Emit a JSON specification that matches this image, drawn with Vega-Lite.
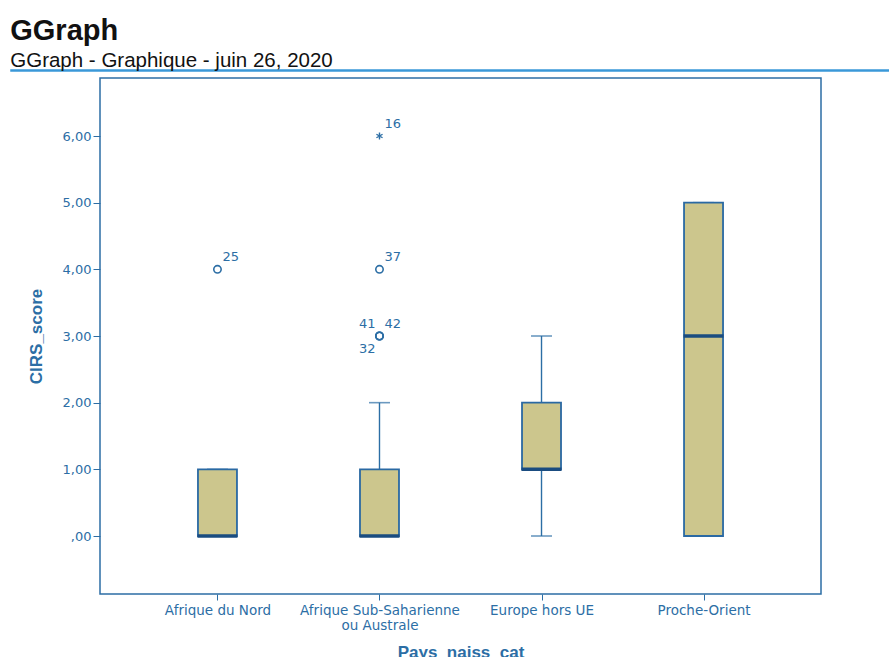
{
  "$schema": "https://vega.github.io/schema/vega-lite/v6.json",
  "padding": {"left": 10, "top": 16, "right": 0, "bottom": 0},
  "background": "white",
  "title": {
    "text": "GGraph",
    "subtitle": "GGraph - Graphique - juin 26, 2020",
    "anchor": "start",
    "frame": "bounds",
    "font": "Liberation Sans",
    "fontSize": 29,
    "fontWeight": "bold",
    "color": "#111111",
    "subtitleFont": "Liberation Sans",
    "subtitleFontSize": 20.5,
    "subtitleColor": "#111111",
    "subtitlePadding": 5,
    "offset": -2
  },
  "datasets": {
    "boxes": [
      {"cat": "Afrique du Nord", "q1": 0, "median": 0, "q3": 1, "lo": 0, "hi": 1},
      {"cat": "Afrique Sub-Saharienne ou Australe", "q1": 0, "median": 0, "q3": 1, "lo": 0, "hi": 2},
      {"cat": "Europe hors UE", "q1": 1, "median": 1, "q3": 2, "lo": 0, "hi": 3},
      {"cat": "Proche-Orient", "q1": 0, "median": 3, "q3": 5, "lo": 0, "hi": 5}
    ],
    "outliers": [
      {"cat": "Afrique du Nord", "value": 4, "id": 25, "type": "outlier"},
      {"cat": "Afrique Sub-Saharienne ou Australe", "value": 6, "id": 16, "type": "extreme"},
      {"cat": "Afrique Sub-Saharienne ou Australe", "value": 4, "id": 37, "type": "outlier"},
      {"cat": "Afrique Sub-Saharienne ou Australe", "value": 3, "id": 41, "type": "outlier"},
      {"cat": "Afrique Sub-Saharienne ou Australe", "value": 3, "id": 42, "type": "outlier"},
      {"cat": "Afrique Sub-Saharienne ou Australe", "value": 3, "id": 32, "type": "outlier"}
    ]
  },
  "config": {
    "view": {"stroke": null},
    "axis": {
      "domain": false,
      "grid": false,
      "tickColor": "#2c6ea5",
      "labelColor": "#2c6ea5",
      "titleColor": "#2c6ea5",
      "labelFont": "DejaVu Sans",
      "labelFontSize": 13,
      "titleFont": "Liberation Sans",
      "titleFontSize": 17,
      "titleFontWeight": "bold"
    }
  },
  "spacing": 5,
  "vconcat": [
    {
      "width": 879,
      "height": 1,
      "view": {"fill": "#3a98d8", "stroke": "#3a98d8", "strokeWidth": 1.5},
      "data": {"values": []},
      "mark": "rule",
      "encoding": {}
    },
    {
      "spacing": 14,
      "hconcat": [
        {
          "width": 1,
          "height": 1,
          "data": {"values": []},
          "mark": "rule",
          "encoding": {}
        },
        {
          "width": 721,
          "height": 516,
          "view": {"stroke": "#2c6ea5", "strokeWidth": 1.5},
          "encoding": {
            "x": {
              "field": "cat",
              "type": "nominal",
              "title": "Pays_naiss_cat",
              "scale": {
                "type": "point",
                "padding": 0.725,
                "domain": ["Afrique du Nord", "Afrique Sub-Saharienne ou Australe", "Europe hors UE", "Proche-Orient"]
              },
              "axis": {
                "labelAngle": 0,
                "tickSize": 6,
                "labelPadding": 3,
                "labelFontSize": 13.5,
                "titlePadding": 12,
                "labelExpr": "datum.label == 'Afrique Sub-Saharienne ou Australe' ? ['Afrique Sub-Saharienne', 'ou Australe'] : datum.label"
              }
            }
          },
          "layer": [
            {
              "data": {"name": "boxes"},
              "mark": {"type": "rule", "color": "#2c6ea5", "strokeWidth": 1.4},
              "encoding": {
                "y": {
                  "field": "lo",
                  "type": "quantitative",
                  "title": "CIRS_score",
                  "scale": {"domain": [-0.87, 6.87], "nice": false, "zero": false},
                  "axis": {
                    "values": [0, 1, 2, 3, 4, 5, 6],
                    "tickSize": 7,
                    "labelPadding": 2,
                    "titlePadding": 17,
                    "labelExpr": "datum.value == 0 ? ',00' : replace(format(datum.value, '.2f'), '.', ',')"
                  }
                },
                "y2": {"field": "hi"}
              }
            },
            {
              "data": {"name": "boxes"},
              "mark": {"type": "tick", "color": "#2c6ea5", "size": 21, "thickness": 1.6, "orient": "horizontal"},
              "encoding": {"y": {"field": "lo", "type": "quantitative"}}
            },
            {
              "data": {"name": "boxes"},
              "mark": {"type": "tick", "color": "#2c6ea5", "size": 21, "thickness": 1.6, "orient": "horizontal"},
              "encoding": {"y": {"field": "hi", "type": "quantitative"}}
            },
            {
              "data": {"name": "boxes"},
              "mark": {"type": "bar", "size": 39, "fill": "#ccc68d", "stroke": "#2a69a3", "strokeWidth": 1.8},
              "encoding": {
                "y": {"field": "q1", "type": "quantitative"},
                "y2": {"field": "q3"}
              }
            },
            {
              "data": {"name": "boxes"},
              "mark": {"type": "tick", "color": "#1a4c80", "size": 40, "thickness": 3.5, "orient": "horizontal", "opacity": 1},
              "encoding": {"y": {"field": "median", "type": "quantitative"}}
            },
            {
              "data": {"name": "outliers"},
              "transform": [{"filter": "datum.type == 'outlier'"}],
              "mark": {"type": "point", "shape": "circle", "filled": false, "size": 55, "stroke": "#2c6ea5", "strokeWidth": 1.6, "opacity": 1},
              "encoding": {"y": {"field": "value", "type": "quantitative"}}
            },
            {
              "data": {"name": "outliers"},
              "transform": [{"filter": "datum.type == 'extreme'"}],
              "mark": {"type": "point", "shape": "M0,-1L0,1M-0.87,-0.5L0.87,0.5M-0.87,0.5L0.87,-0.5", "filled": false, "size": 50, "stroke": "#2c6ea5", "strokeWidth": 1.4, "opacity": 1},
              "encoding": {"y": {"field": "value", "type": "quantitative"}}
            },
            {
              "data": {"name": "outliers"},
              "transform": [{"filter": "datum.id != 41 && datum.id != 32"}],
              "mark": {"type": "text", "align": "left", "baseline": "middle", "dx": 5, "dy": -12, "font": "DejaVu Sans", "fontSize": 13, "color": "#2c6ea5"},
              "encoding": {"y": {"field": "value", "type": "quantitative"}, "text": {"field": "id"}}
            },
            {
              "data": {"name": "outliers"},
              "transform": [{"filter": "datum.id == 41"}],
              "mark": {"type": "text", "align": "right", "baseline": "middle", "dx": -4, "dy": -12, "font": "DejaVu Sans", "fontSize": 13, "color": "#2c6ea5"},
              "encoding": {"y": {"field": "value", "type": "quantitative"}, "text": {"field": "id"}}
            },
            {
              "data": {"name": "outliers"},
              "transform": [{"filter": "datum.id == 32"}],
              "mark": {"type": "text", "align": "right", "baseline": "middle", "dx": -4, "dy": 13, "font": "DejaVu Sans", "fontSize": 13, "color": "#2c6ea5"},
              "encoding": {"y": {"field": "value", "type": "quantitative"}, "text": {"field": "id"}}
            }
          ]
        }
      ]
    }
  ]
}
